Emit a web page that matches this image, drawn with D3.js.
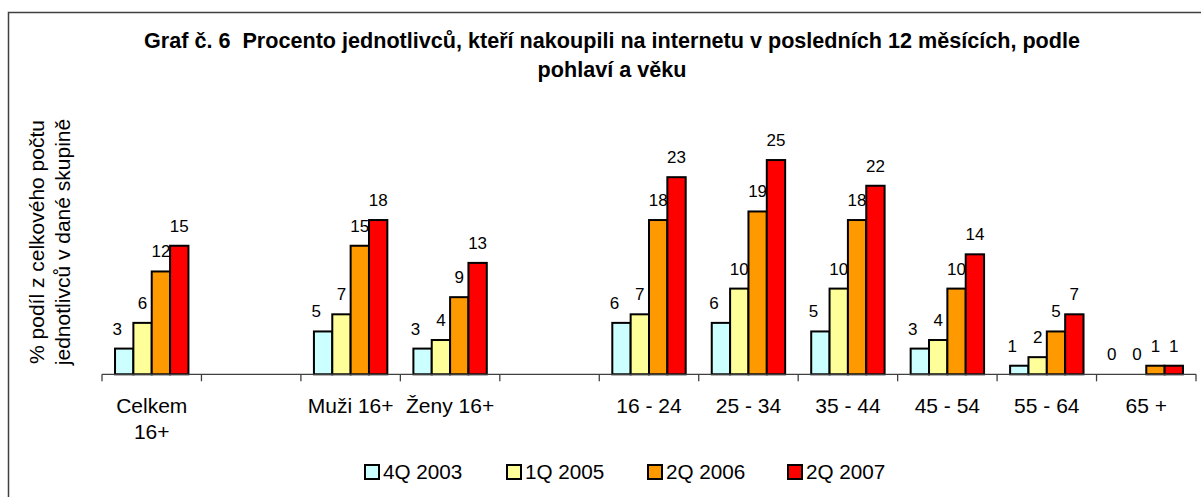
<!DOCTYPE html>
<html><head><meta charset="utf-8">
<script src="https://cdn.jsdelivr.net/npm/d3@7"></script>
<style>body{margin:0;background:#fff}svg{display:block;font-family:Arial,"Liberation Sans",sans-serif}</style>
</head><body>
<svg id="c" width="1201" height="497"></svg>
<script>
const categories = ["Celkem\n16+", "", "Muži 16+", "Ženy 16+", "", "16 - 24", "25 - 34", "35 - 44", "45 - 54", "55 - 64", "65 +"];
const seriesNames = ["4Q 2003", "1Q 2005", "2Q 2006", "2Q 2007"];
const s2003 = [3, null, 5, 3, null, 6, 6, 5, 3, 1, 0];
const s2005 = [6, null, 7, 4, null, 7, 10, 10, 4, 2, 0];
const s2006 = [12, null, 15, 9, null, 18, 19, 18, 10, 5, 1];
const s2007 = [15, null, 18, 13, null, 23, 25, 22, 14, 7, 1];
const colors = ["#CCFFFF", "#FFFF99", "#FF9900", "#FF0000"];
const titleLines = ["Graf č. 6  Procento jednotlivců, kteří nakoupili na internetu v posledních 12 měsících, podle", "pohlaví a věku"];
const yTitle = ["% podíl z celkového počtu", "jednotlivců v dané skupině"];
const series = [s2003, s2005, s2006, s2007];

const svg = d3.select("#c");
// frame
svg.append("rect").attr("x", 8.5).attr("y", 12.5).attr("width", 1300).attr("height", 600)
  .attr("fill", "none").attr("stroke", "#404040").attr("stroke-width", 1.5);

// title
const t = svg.append("text").attr("text-anchor", "middle").attr("font-weight", "bold").attr("font-size", 21.6)
  .style("white-space", "pre");
titleLines.forEach((l, i) => t.append("tspan").attr("x", 612).attr("y", 48 + i * 29).text(l));

const baseY = 374.3;
const x0 = d3.scaleBand().domain(d3.range(categories.length)).range([102, 1196]).padding(0);
const x1 = d3.scaleBand().domain(d3.range(series.length)).range([0, x0.bandwidth()]).paddingInner(0).paddingOuter(0.71);
const y = d3.scaleLinear().domain([0, 30]).range([baseY, baseY - 257.1]);

// y title
const yt = svg.append("text").attr("text-anchor", "middle").attr("font-size", 21)
  .attr("transform", "translate(0,242) rotate(-90)");
yTitle.forEach((l, i) => yt.append("tspan").attr("x", 0).attr("y", 44 + i * 26).text(l));

// bars
const g = svg.append("g");
series.forEach((s, si) => {
  g.selectAll(null).data(s.map((v, i) => ({v, i}))).enter()
    .filter(d => d.v !== null && d.v > 0)
    .append("rect")
    .attr("x", d => x0(d.i) + x1(si))
    .attr("width", x1.bandwidth())
    .attr("y", d => y(d.v))
    .attr("height", d => baseY - y(d.v))
    .attr("fill", colors[si]).attr("stroke", "#000").attr("stroke-width", 2);
});
// labels
const labelDx = [-7, 0, 0, 0];
series.forEach((s, si) => {
  g.selectAll(null).data(s.map((v, i) => ({v, i}))).enter()
    .filter(d => d.v !== null)
    .append("text")
    .attr("x", d => x0(d.i) + x1(si) + x1.bandwidth() / 2 + labelDx[si])
    .attr("y", d => y(d.v) - 14)
    .attr("text-anchor", "middle").attr("font-size", 17).attr("fill", "#000")
    .text(d => d.v);
});

// axis
const axis = d3.axisBottom(x0).tickSize(0).tickFormat("");
const ag = svg.append("g").attr("transform", `translate(0,${baseY})`).call(axis);
ag.select(".domain").attr("stroke", "#404040").attr("stroke-width", 1.3).attr("d", "M102,0H1196");
const bounds = d3.range(categories.length).map(i => x0(i)).concat([1196]);
ag.selectAll(".bt").data(bounds).enter().append("line")
  .attr("x1", d => d).attr("x2", d => d).attr("y1", 0).attr("y2", 7)
  .attr("stroke", "#404040").attr("stroke-width", 1.3);
categories.forEach((c, i) => {
  const tx = ag.append("text").attr("text-anchor", "middle").attr("font-size", 21).attr("fill", "#000");
  c.split("\n").forEach((l, li) => tx.append("tspan").attr("x", x0(i) + x0.bandwidth() / 2).attr("y", 39 + li * 26).text(l));
});

// legend
const lx = [365, 507, 648, 788];
seriesNames.forEach((n, i) => {
  svg.append("rect").attr("x", lx[i]).attr("y", 465).attr("width", 14).attr("height", 14)
    .attr("fill", colors[i]).attr("stroke", "#000").attr("stroke-width", 2);
  svg.append("text").attr("x", lx[i] + 18).attr("y", 479).attr("font-size", 20.7).text(n);
});
</script>
</body></html>
